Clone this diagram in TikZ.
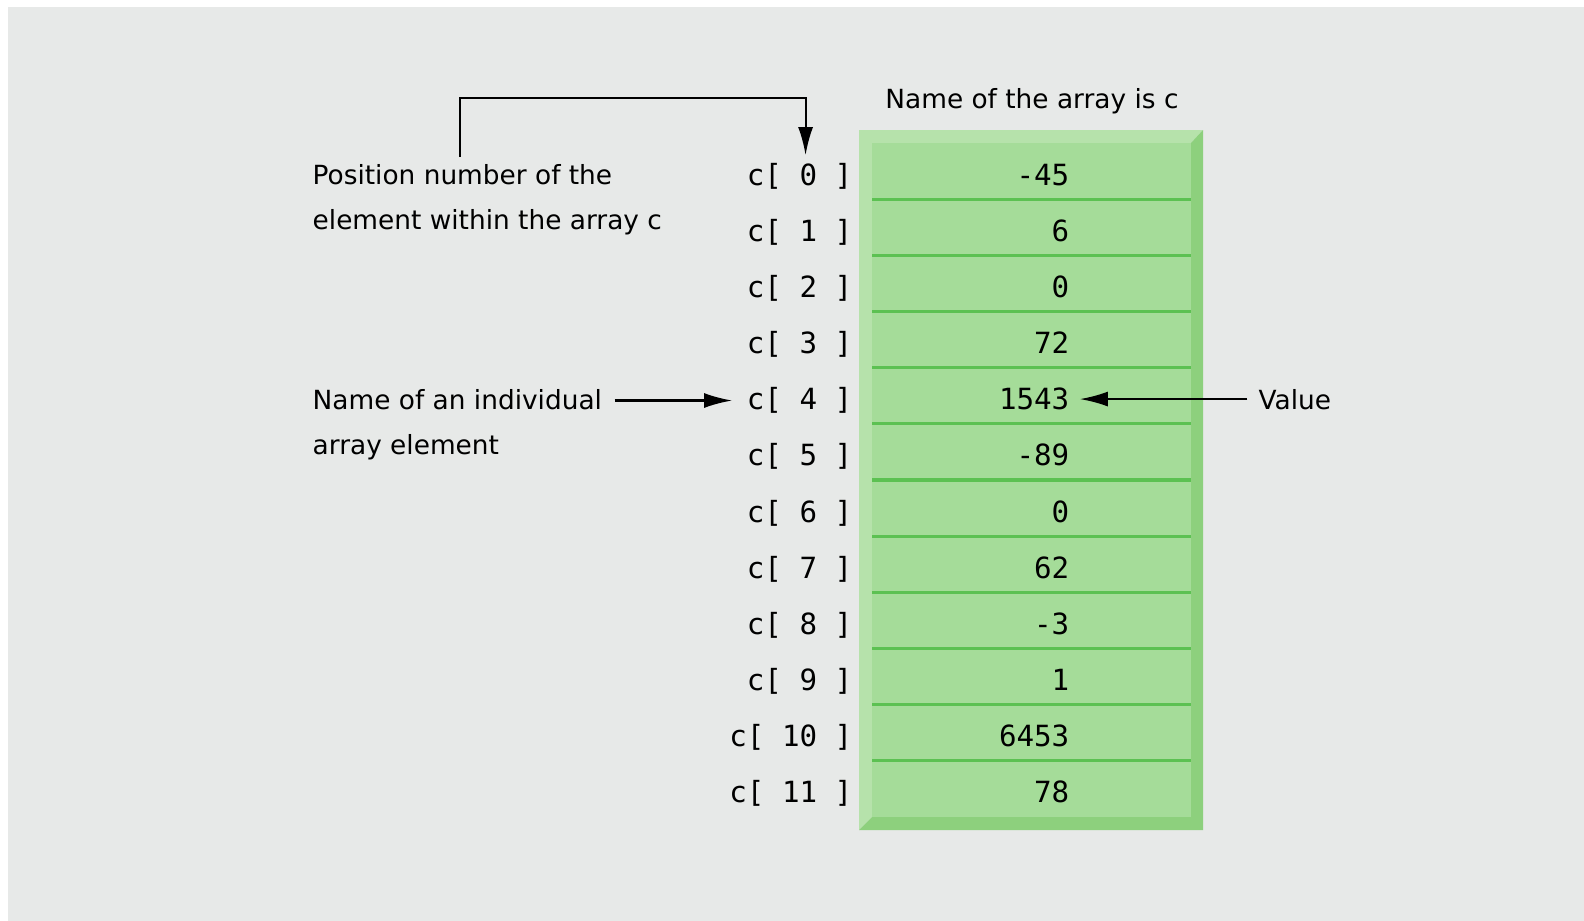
\documentclass[tikz,border=0pt]{standalone}
\usepackage{fontspec}
\setmainfont{DejaVu Sans}
\setmonofont{DejaVu Sans Mono}
\usetikzlibrary{arrows.meta}
\definecolor{bggrey}{HTML}{E7E9E8}
\definecolor{cellgreen}{HTML}{A5DC99}
\definecolor{bevellight}{HTML}{B6E2AB}
\definecolor{beveldark}{HTML}{8DD07D}
\definecolor{rulegreen}{HTML}{5CC152}
\begin{document}
\begin{tikzpicture}[x=0.01cm,y=-0.01cm,
    note/.style={inner sep=0pt,align=left,font=\fontsize{7.5}{12.6}\selectfont},
    idx/.style={inner sep=0pt,anchor=base east,font=\ttfamily\fontsize{8.3}{10}\selectfont},
    val/.style={inner sep=0pt,anchor=base east,font=\ttfamily\fontsize{8.3}{10}\selectfont},
    pointer/.style={-{Latex[length=0.28cm,width=0.15cm]},line width=0.6pt}]
    \useasboundingbox (0,0) rectangle (1584,921);
    \fill[bggrey] (8,7) rectangle (1584,921);
    % the array c as a bevelled green column
    \fill[bevellight] (859,130) -- (1203,130) -- (1191,143) -- (872,143) -- (872,817) -- (859,830) -- cycle;
    \fill[beveldark] (1203,130) -- (1203,830) -- (859,830) -- (872,817) -- (1191,817) -- (1191,143) -- cycle;
    \fill[cellgreen] (872,143) rectangle (1191,817);
    \foreach \k in {1,...,11}
        \draw[rulegreen,line width=0.9pt] (872,{143+56.17*\k}) -- (1191,{143+56.17*\k});
    \foreach \val [count=\i from 0] in {-45,6,0,72,1543,-89,0,62,-3,1,6453,78} {
        \node[idx] (i\i) at (853,{185+56.17*\i}) {c[ \i\ ]};
        \node[val] (v\i) at (1070,{185+56.17*\i}) {\val};
    }
    \node[note,anchor=base] (arrname) at (1032,108) {Name of the array is c};
    \node[note,anchor=north west] (posnum) at (312,164) {Position number of the\\element within the array c};
    \node[note,anchor=north west] (elemname) at (312,389) {Name of an individual\\array element};
    \node[note,anchor=base west] (value) at (1258,409) {Value};
    \draw[pointer,shorten >=2pt] ([xshift=1.48cm,yshift=0.07cm]posnum.north west) -- ++(0,-59) -| ([xshift=0.06cm]i0.north);
    \draw[pointer,shorten <=3.4pt,shorten >=4pt] (elemname.east |- i4.west) -- (i4.west);
    \draw[pointer,shorten <=3pt,shorten >=2.8pt] (value.west |- v4.east) -- (v4.east);
\end{tikzpicture}
\end{document}
